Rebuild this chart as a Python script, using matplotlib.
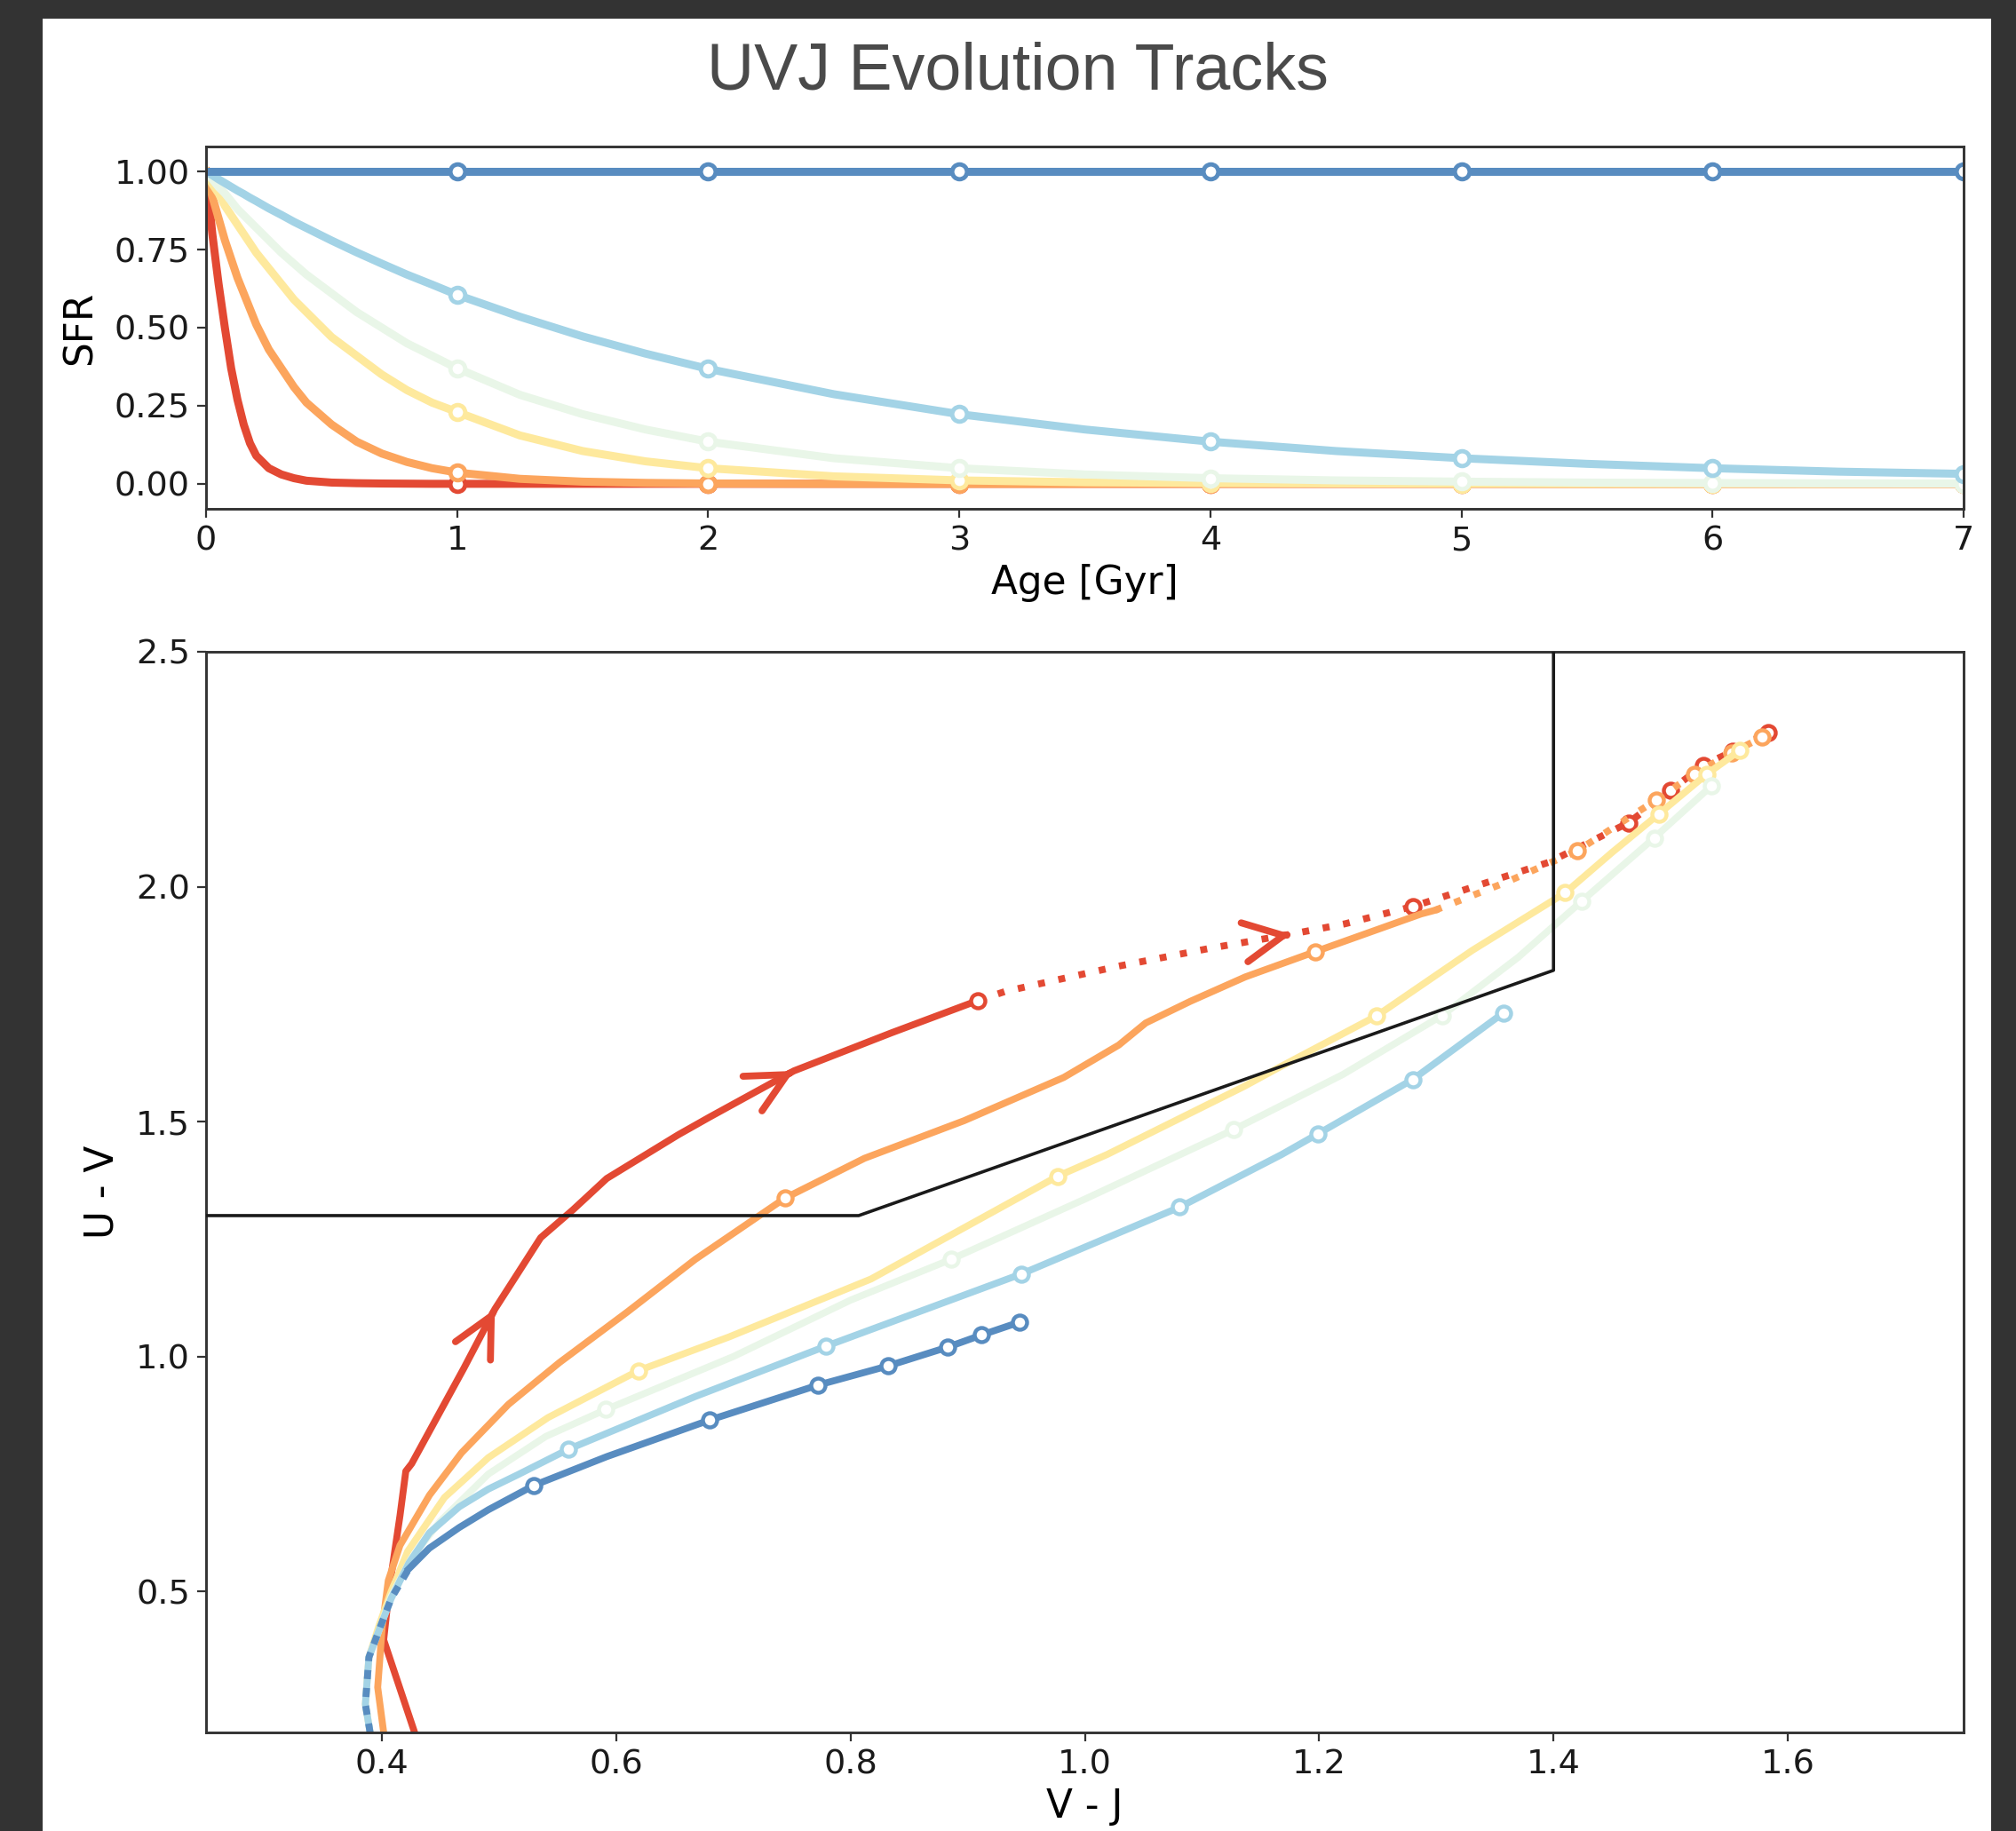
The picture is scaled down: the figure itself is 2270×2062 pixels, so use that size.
import numpy as np
import matplotlib
matplotlib.use('Agg')
import matplotlib.pyplot as plt
from matplotlib.patches import Rectangle

plt.rcParams['font.family'] = ['DejaVu Sans']

# ---- SFR history panel ----
ages = [0, 0.025, 0.05, 0.075, 0.1, 0.125, 0.15, 0.175, 0.2, 0.25, 0.3, 0.35, 0.4,
        0.5, 0.6, 0.7, 0.8, 0.9, 1.0, 1.25, 1.5, 1.75, 2.0, 2.5, 3.0, 3.5,
        4.0, 4.5, 5.0, 5.5, 6.0, 6.5, 7.0]
marker_ages = [1, 2, 3, 4, 5, 6, 7]

sfr_red = [1.00, 0.80, 0.64, 0.50, 0.37, 0.27, 0.19, 0.13, 0.09, 0.05, 0.03, 0.018, 0.01,
           0.004, 0.002, 0.001, 0.0005,
           0, 0, 0, 0, 0, 0, 0, 0, 0, 0, 0, 0, 0, 0, 0, 0]
sfr_orange = [1.00, 0.92, 0.85, 0.78, 0.72, 0.66, 0.61, 0.56, 0.51, 0.43, 0.37, 0.31, 0.26,
              0.19, 0.135, 0.097, 0.07, 0.05, 0.036, 0.016, 0.007, 0.003, 0.001,
              0, 0, 0, 0, 0, 0, 0, 0, 0, 0]
sfr_yellow = [1.00, 0.96, 0.93, 0.89, 0.86, 0.83, 0.80, 0.77, 0.74, 0.69, 0.64, 0.59, 0.55,
              0.47, 0.41, 0.35, 0.30, 0.26, 0.23, 0.155, 0.105, 0.072, 0.05, 0.024, 0.011, 0.005,
              0.0025, 0.0012, 0.0006, 0.0003, 0.0001, 0, 0]
sfr_pale = [1.00, 0.975, 0.95, 0.93, 0.905, 0.88, 0.86, 0.84, 0.82, 0.78, 0.74, 0.705, 0.67,
            0.61, 0.55, 0.50, 0.45, 0.41, 0.37, 0.285, 0.223, 0.174, 0.135, 0.082, 0.05, 0.03,
            0.018, 0.011, 0.007, 0.004, 0.0025, 0.0015, 0.001]
sfr_ltblue = [1.00, 0.988, 0.975, 0.963, 0.951, 0.939, 0.928, 0.916, 0.905, 0.882, 0.861, 0.839, 0.819,
              0.779, 0.741, 0.705, 0.670, 0.638, 0.605, 0.535, 0.472, 0.417, 0.368, 0.287, 0.223, 0.174,
              0.135, 0.105, 0.082, 0.064, 0.050, 0.039, 0.032]
sfr_blue = [1.00] * len(ages)

# ---- UVJ tracks (V-J, U-V) ----
red_vj = [0.428, 0.4016, 0.4066, 0.4155, 0.4205, 0.4255, 0.470, 0.4965, 0.5356, 0.563, 0.592,
          0.653, 0.680, 0.7517, 0.835, 0.909]
red_uv = [0.20, 0.397, 0.510, 0.661, 0.756, 0.772, 0.975, 1.101, 1.253, 1.312, 1.379,
          1.472, 1.510, 1.608, 1.689, 1.758]
red_dot_vj = [0.909, 0.932, 1.029, 1.107, 1.176, 1.222, 1.280, 1.299, 1.396, 1.464, 1.500, 1.528, 1.553, 1.583]
red_dot_uv = [1.758, 1.777, 1.831, 1.869, 1.899, 1.921, 1.958, 1.973, 2.052, 2.136, 2.205, 2.259, 2.288, 2.328]
red_mk_vj = [0.909, 1.280, 1.464, 1.500, 1.528, 1.553, 1.583]
red_mk_uv = [1.758, 1.958, 2.136, 2.205, 2.259, 2.288, 2.328]
red_arrows = [7, 13]      # arrow tips on the solid part
red_dot_arrows = [4]      # arrow tip on the dotted part

orange_vj = [0.4016, 0.3965, 0.4003, 0.4055, 0.4155, 0.4407, 0.468, 0.508, 0.5515, 0.6096, 0.6676,
             0.744, 0.812, 0.897, 0.982, 1.029, 1.052, 1.090, 1.137, 1.197, 1.287, 1.299]
orange_uv = [0.20, 0.296, 0.4225, 0.523, 0.598, 0.705, 0.795, 0.898, 0.987, 1.095, 1.207,
             1.337, 1.422, 1.502, 1.594, 1.663, 1.710, 1.756, 1.808, 1.862, 1.942, 1.950]
orange_dot_vj = [1.299, 1.360, 1.420, 1.488, 1.520, 1.552, 1.578]
orange_dot_uv = [1.950, 2.010, 2.076, 2.185, 2.240, 2.285, 2.318]
orange_mk_vj = [0.744, 1.197, 1.420, 1.488, 1.520, 1.552, 1.578]
orange_mk_uv = [1.337, 1.862, 2.076, 2.185, 2.240, 2.285, 2.318]

yellow_vj = [0.390, 0.386, 0.389, 0.398, 0.408, 0.422, 0.4535, 0.491, 0.5418, 0.619, 0.6966,
             0.8175, 0.977, 1.019, 1.136, 1.164, 1.249, 1.331, 1.410, 1.450, 1.490, 1.531, 1.559]
yellow_uv = [0.20, 0.26, 0.36, 0.43, 0.50, 0.585, 0.70, 0.785, 0.87, 0.970, 1.042,
             1.165, 1.384, 1.430, 1.575, 1.613, 1.725, 1.865, 1.987, 2.073, 2.155, 2.240, 2.290]
yellow_mk_vj = [0.619, 0.977, 1.249, 1.410, 1.490, 1.531, 1.559]
yellow_mk_uv = [0.970, 1.384, 1.725, 1.987, 2.155, 2.240, 2.290]

pale_vj = [0.390, 0.386, 0.389, 0.398, 0.408, 0.425, 0.45, 0.491, 0.54, 0.591, 0.70, 0.80,
           0.886, 1.00, 1.127, 1.22, 1.305, 1.37, 1.424, 1.486, 1.535]
pale_uv = [0.20, 0.26, 0.36, 0.42, 0.49, 0.57, 0.65, 0.75, 0.83, 0.887, 1.00, 1.12,
           1.207, 1.335, 1.483, 1.60, 1.726, 1.85, 1.969, 2.104, 2.215]
pale_mk_vj = [0.591, 0.886, 1.127, 1.305, 1.424, 1.486, 1.535]
pale_mk_uv = [0.887, 1.207, 1.483, 1.726, 1.969, 2.104, 2.215]

ltblue_vj = [0.390, 0.386, 0.389, 0.398, 0.408, 0.423, 0.4407, 0.466, 0.491, 0.5165, 0.5595,
             0.6676, 0.779, 0.946, 1.081, 1.168, 1.199, 1.280, 1.357]
ltblue_uv = [0.20, 0.26, 0.36, 0.42, 0.485, 0.56, 0.625, 0.68, 0.718, 0.749, 0.803,
             0.915, 1.022, 1.176, 1.318, 1.430, 1.474, 1.590, 1.731]
ltblue_mk_vj = [0.5595, 0.779, 0.946, 1.081, 1.199, 1.280, 1.357]
ltblue_mk_uv = [0.803, 1.022, 1.176, 1.318, 1.474, 1.590, 1.731]

blue_young_vj = [0.390, 0.386, 0.389, 0.398, 0.408, 0.423]
blue_young_uv = [0.20, 0.26, 0.36, 0.42, 0.485, 0.548]
blue_vj = [0.423, 0.4405, 0.466, 0.491, 0.530, 0.592, 0.680, 0.772, 0.832, 0.883, 0.912, 0.944]
blue_uv = [0.548, 0.592, 0.636, 0.674, 0.726, 0.787, 0.865, 0.939, 0.980, 1.020, 1.046, 1.073]
blue_mk_vj = [0.530, 0.680, 0.772, 0.832, 0.883, 0.912, 0.944]
blue_mk_uv = [0.726, 0.866, 0.939, 0.980, 1.020, 1.046, 1.073]

# UVJ quiescent box
box_vj = [0.25, 0.807, 1.40, 1.40]
box_uv = [1.30, 1.30, 1.822, 2.5]

cols = plt.get_cmap('RdYlBu')(np.linspace(0, 1, 8)[1:-1])
c_red, c_orange, c_yellow, c_pale, c_ltblue, c_blue = cols

W, H = 2270, 2062
fig = plt.figure(figsize=(W / 100, H / 100), dpi=100, facecolor='#333333')
fig.add_artist(Rectangle((48 / W, 0), (2242 - 48) / W, (H - 21) / H,
                         transform=fig.transFigure, facecolor='white',
                         edgecolor='none', zorder=-5))
fig.text(1146 / W, 1 - 81 / H, 'UVJ Evolution Tracks', family='Liberation Sans',
         fontsize=53, color='#4a4a4a', ha='center', va='center')

ax1 = fig.add_axes([232 / W, 1 - 573 / H, (2211 - 232) / W, (573 - 165) / H])
ax2 = fig.add_axes([232 / W, 1 - 1951 / H, (2211 - 232) / W, (1951 - 734) / H])

for ax in (ax1, ax2):
    for s in ax.spines.values():
        s.set_linewidth(2.1)
        s.set_color('#333333')
    ax.tick_params(direction='out', length=7, width=1.6, color='#333333',
                   labelsize=27.5, labelcolor='#1a1a1a', pad=6)

# top panel
mk = list(np.isin(ages, marker_ages))
for vals, c in [(sfr_red, c_red), (sfr_orange, c_orange), (sfr_yellow, c_yellow),
                (sfr_pale, c_pale), (sfr_ltblue, c_ltblue), (sfr_blue, c_blue)]:
    ax1.plot(ages, vals, '-o', color=c, lw=6.5, markevery=mk, ms=12,
             mfc='white', mec=c, mew=3.5)
ax1.set_xlim(0, 7)
ax1.set_ylim(-0.08, 1.08)
ax1.set_xticks(range(8))
ax1.set_yticks([0, 0.25, 0.5, 0.75, 1.0])
ax1.set_xlabel('Age [Gyr]', fontsize=31.5, labelpad=6)
ax1.set_ylabel('SFR', fontsize=31.5, labelpad=12)

# bottom panel
lw2 = 5.6
dots = (0, (1, 2.0))
mkw = dict(ls='none', marker='o', ms=11.5, mfc='white', mew=3.2)

ax2.plot(red_vj, red_uv, color=c_red, lw=lw2)
ax2.plot(red_dot_vj, red_dot_uv, color=c_red, lw=lw2, ls=dots)
ax2.plot(red_mk_vj, red_mk_uv, mec=c_red, **mkw)

ax2.plot(orange_vj, orange_uv, color=c_orange, lw=lw2)
ax2.plot(orange_dot_vj, orange_dot_uv, color=c_orange, lw=lw2, ls=dots)
ax2.plot(orange_mk_vj, orange_mk_uv, mec=c_orange, **mkw)

ax2.plot(yellow_vj, yellow_uv, color=c_yellow, lw=lw2)
ax2.plot(yellow_mk_vj, yellow_mk_uv, mec=c_yellow, **mkw)

ax2.plot(pale_vj, pale_uv, color=c_pale, lw=lw2)
ax2.plot(pale_mk_vj, pale_mk_uv, mec=c_pale, **mkw)

ax2.plot(ltblue_vj, ltblue_uv, color=c_ltblue, lw=lw2)
ax2.plot(ltblue_mk_vj, ltblue_mk_uv, mec=c_ltblue, **mkw)

ax2.plot(blue_young_vj, blue_young_uv, color=c_blue, lw=lw2, ls=(0, (1.3, 1.3)))
ax2.plot(blue_vj, blue_uv, color=c_blue, lw=lw2)
ax2.plot(blue_mk_vj, blue_mk_uv, mec=c_blue, **mkw)

# arrow heads along the red track
def head(xs, ys, i):
    x0, y0 = xs[i - 1], ys[i - 1]
    x1, y1 = xs[i], ys[i]
    ax2.annotate('', xy=(x1, y1), xytext=(x1 - 0.05 * (x1 - x0), y1 - 0.05 * (y1 - y0)),
                 arrowprops=dict(arrowstyle='->', color=c_red, lw=lw2,
                                 mutation_scale=80, shrinkA=0, shrinkB=0))

for i in red_arrows:
    head(red_vj, red_uv, i)
for i in red_dot_arrows:
    head(red_dot_vj, red_dot_uv, i)

ax2.plot(box_vj, box_uv, color='#1a1a1a', lw=2.6, zorder=5)

ax2.set_xlim(0.25, 1.75)
ax2.set_ylim(0.2, 2.5)
ax2.set_xticks([0.4, 0.6, 0.8, 1.0, 1.2, 1.4, 1.6])
ax2.set_yticks([0.5, 1.0, 1.5, 2.0, 2.5])
ax2.set_xlabel('V - J', fontsize=31.5, labelpad=6)
ax2.set_ylabel('U - V', fontsize=31.5, labelpad=12)

fig.savefig('out.png', dpi=100, facecolor=fig.get_facecolor())
